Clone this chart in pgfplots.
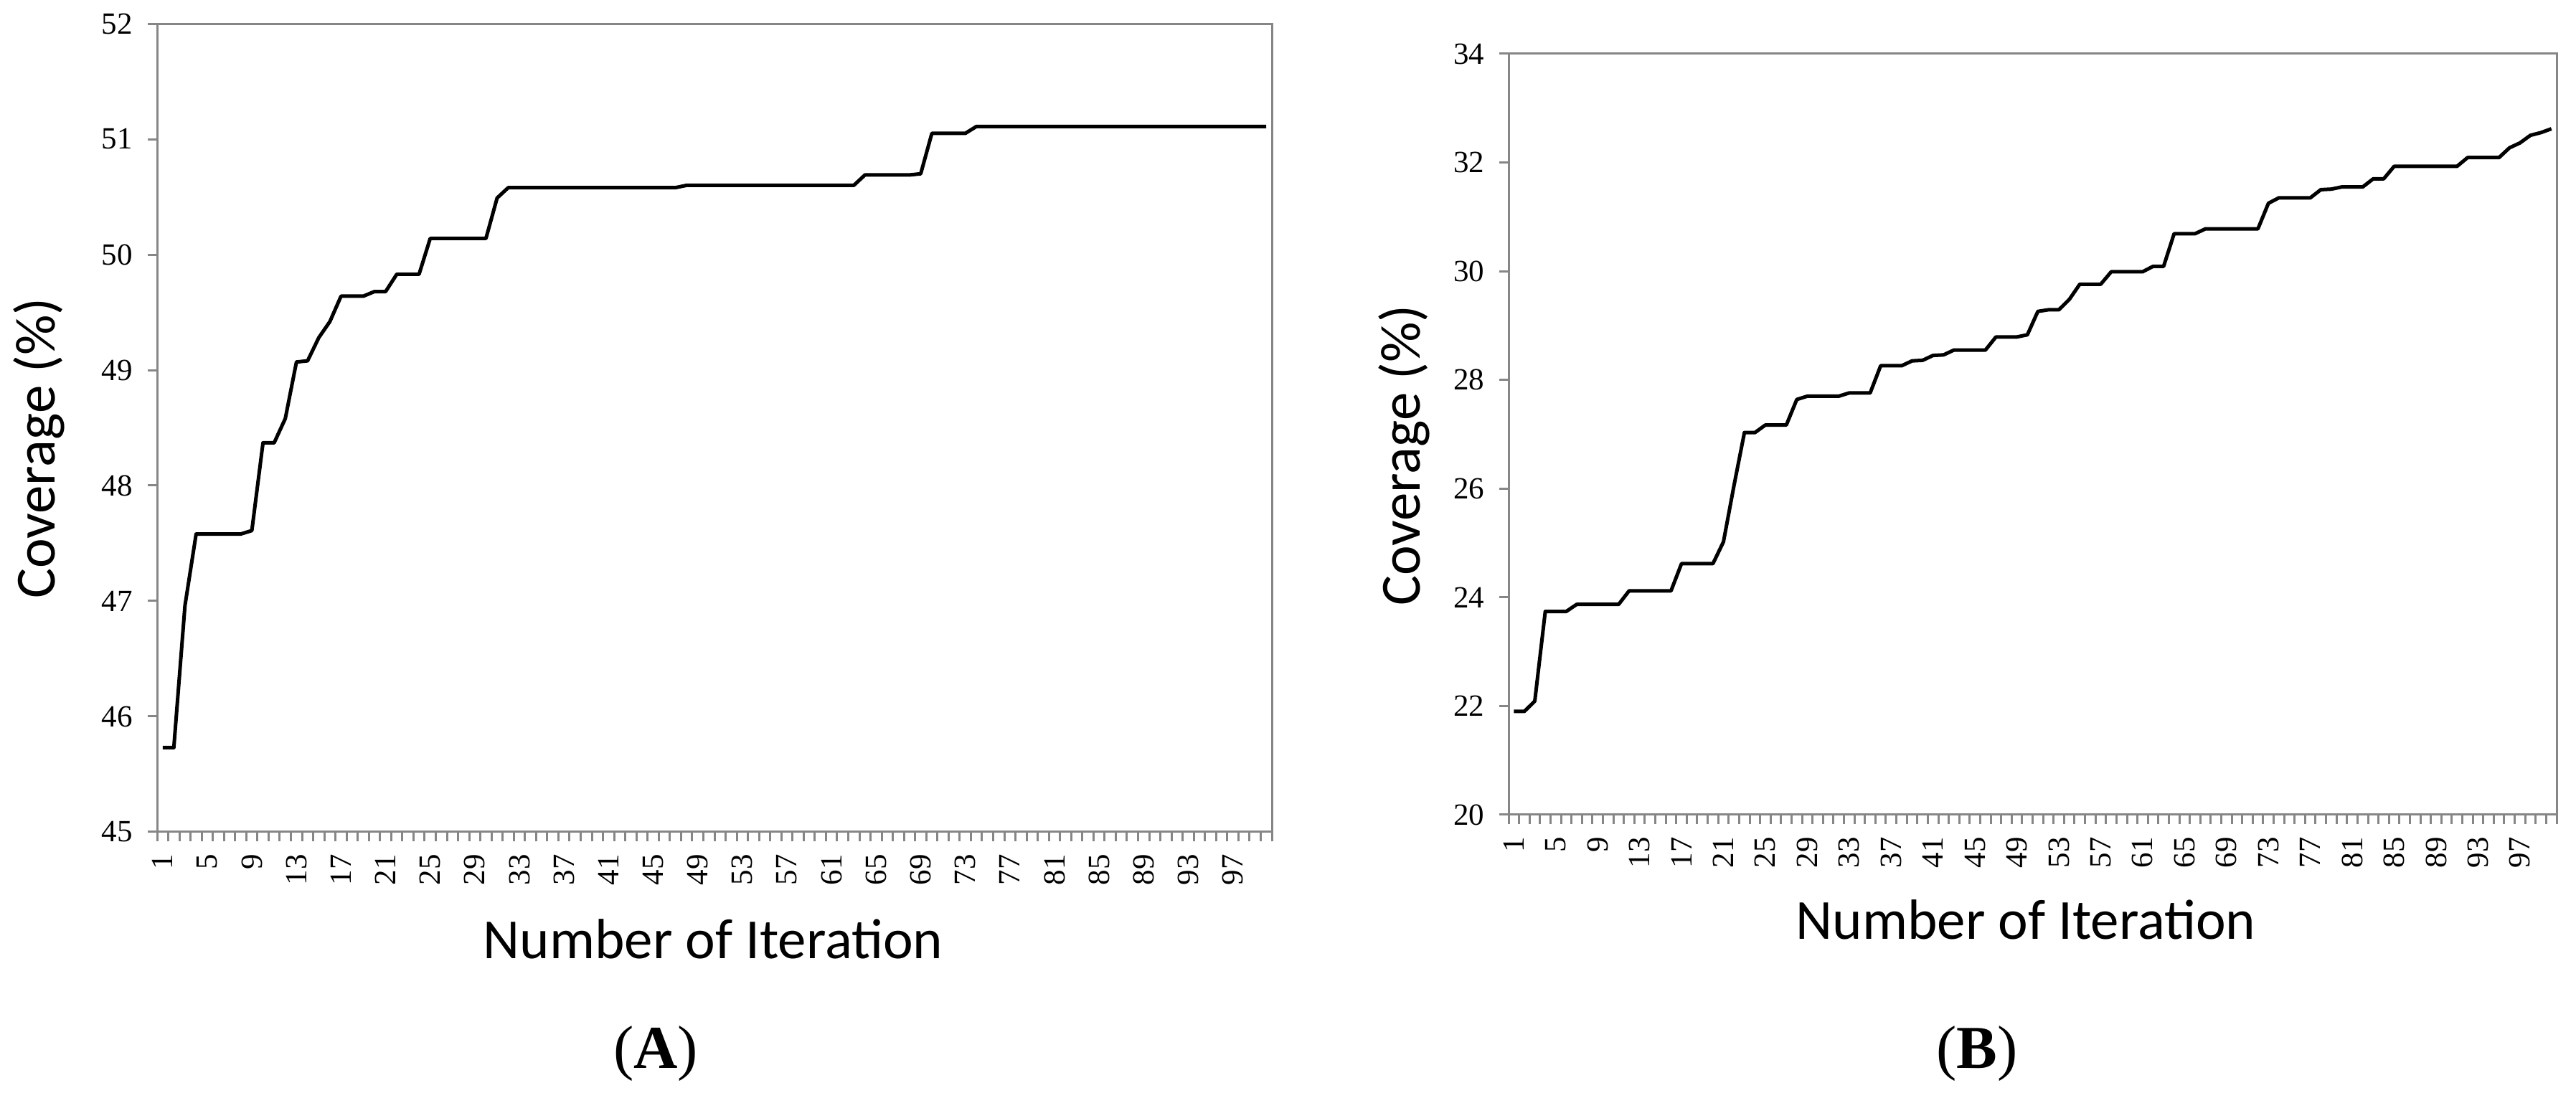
\documentclass[border=0pt]{standalone}
\usepackage{fontspec}
\setmainfont{Liberation Serif}
\newfontfamily\calibri{Carlito}
\usepackage{pgfplots}
\usepackage{pgfplotstable}
\pgfplotsset{compat=1.18}
\definecolor{axisgray}{HTML}{868686}

% coverage per iteration, run A
\pgfplotstableread{
i v
1 45.73
2 45.73
3 46.96
4 47.58
5 47.58
6 47.58
7 47.58
8 47.58
9 47.61
10 48.37
11 48.37
12 48.58
13 49.07
14 49.08
15 49.28
16 49.42
17 49.64
18 49.64
19 49.64
20 49.68
21 49.68
22 49.83
23 49.83
24 49.83
25 50.14
26 50.14
27 50.14
28 50.14
29 50.14
30 50.14
31 50.49
32 50.58
33 50.58
34 50.58
35 50.58
36 50.58
37 50.58
38 50.58
39 50.58
40 50.58
41 50.58
42 50.58
43 50.58
44 50.58
45 50.58
46 50.58
47 50.58
48 50.60
49 50.60
50 50.60
51 50.60
52 50.60
53 50.60
54 50.60
55 50.60
56 50.60
57 50.60
58 50.60
59 50.60
60 50.60
61 50.60
62 50.60
63 50.60
64 50.69
65 50.69
66 50.69
67 50.69
68 50.69
69 50.70
70 51.05
71 51.05
72 51.05
73 51.05
74 51.11
75 51.11
76 51.11
77 51.11
78 51.11
79 51.11
80 51.11
81 51.11
82 51.11
83 51.11
84 51.11
85 51.11
86 51.11
87 51.11
88 51.11
89 51.11
90 51.11
91 51.11
92 51.11
93 51.11
94 51.11
95 51.11
96 51.11
97 51.11
98 51.11
99 51.11
100 51.11
}\runA

% coverage per iteration, run B
\pgfplotstableread{
i v
1 21.90
2 21.90
3 22.09
4 23.74
5 23.74
6 23.74
7 23.87
8 23.87
9 23.87
10 23.87
11 23.87
12 24.12
13 24.12
14 24.12
15 24.12
16 24.12
17 24.62
18 24.62
19 24.62
20 24.62
21 25.02
22 26.05
23 27.03
24 27.03
25 27.17
26 27.17
27 27.17
28 27.64
29 27.70
30 27.70
31 27.70
32 27.70
33 27.76
34 27.76
35 27.76
36 28.26
37 28.26
38 28.26
39 28.35
40 28.36
41 28.45
42 28.46
43 28.55
44 28.55
45 28.55
46 28.55
47 28.79
48 28.79
49 28.79
50 28.83
51 29.26
52 29.29
53 29.29
54 29.48
55 29.76
56 29.76
57 29.76
58 29.99
59 29.99
60 29.99
61 29.99
62 30.09
63 30.09
64 30.69
65 30.69
66 30.69
67 30.78
68 30.78
69 30.78
70 30.78
71 30.78
72 30.78
73 31.25
74 31.35
75 31.35
76 31.35
77 31.35
78 31.50
79 31.51
80 31.55
81 31.55
82 31.55
83 31.70
84 31.70
85 31.93
86 31.93
87 31.93
88 31.93
89 31.93
90 31.93
91 31.93
92 32.09
93 32.09
94 32.09
95 32.09
96 32.27
97 32.36
98 32.50
99 32.55
100 32.62
}\runB

\pgfplotsset{
  coverage/.style={
    scale only axis,
    anchor=south west,
    xmin=0.5, xmax=100.5,
    axis line style={axisgray, line width=0.6pt},
    tick style={axisgray, line width=0.6pt},
    tick align=outside,
    tick pos=left,
    major tick length=2.6pt,
    minor tick length=2.6pt,
    xtick={1,5,...,97},
    minor xtick={0.5,1.5,...,100.5},
    every major x tick/.style={draw=none},
    /pgf/number format/assume math mode=true,
    ticklabel style={font=\fontsize{8.6}{10}\selectfont, black},
    % rotated labels: local x points up, so a negative xshift moves them down
    xticklabel style={rotate=90, anchor=east, inner sep=0pt, xshift=-3.5pt},
    yticklabel style={anchor=east, inner sep=0pt, xshift=-4pt},
  }
}

\begin{document}
\begin{tikzpicture}
\useasboundingbox (0,0) rectangle (718.2pt,304.8pt);

\begin{axis}[coverage, at={(43.8pt,72.8pt)},
  width=310.8pt, height=225.4pt,
  ymin=45, ymax=52, ytick={45,...,52}]
  \addplot[black, line width=1pt, line join=round] table[x=i, y=v] {\runA};
\end{axis}

\begin{axis}[coverage, at={(420.6pt,77.6pt)},
  width=292.2pt, height=212.2pt,
  ymin=20, ymax=34, ytick={20,22,...,34}]
  \addplot[black, line width=1pt, line join=round] table[x=i, y=v] {\runB};
\end{axis}

\begin{scope}[every node/.style={font=\calibri\fontsize{15.8}{18}\selectfont}]
  \node[anchor=base] at (198.8pt,37.4pt) {Number of Iteration};
  \node[anchor=base] at (564.8pt,42.8pt) {Number of Iteration};
  \node[rotate=90] at (10.9pt,179.8pt) {Coverage (\%)};
  \node[rotate=90] at (391.4pt,177.8pt) {Coverage (\%)};
\end{scope}

\node[anchor=base, font=\fontsize{17}{20}\selectfont] at (182.8pt,6.8pt) {(\textbf{A})};
\node[anchor=base, font=\fontsize{17}{20}\selectfont] at (551.2pt,6.8pt) {(\textbf{B})};
\end{tikzpicture}
\end{document}
